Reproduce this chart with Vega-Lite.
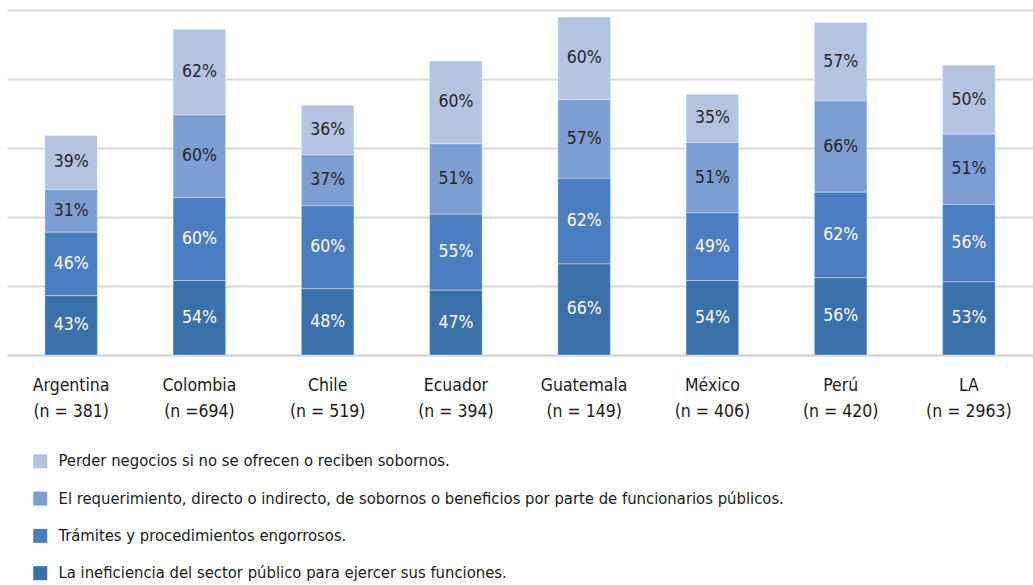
{
  "$schema": "https://vega.github.io/schema/vega-lite/v6.json",
  "autosize": {"type": "none"},
  "width": 1026,
  "height": 345,
  "padding": {"left": 7, "top": 10, "right": 0, "bottom": 230},
  "background": "white",
  "config": {
    "font": "DejaVu Sans Condensed, Liberation Sans Narrow, sans-serif",
    "view": {"stroke": null}
  },
  "data": {
    "values": [
      {"pais": "Argentina|(n = 381)", "serie": "Perder negocios si no se ofrecen o reciben sobornos.", "rank": 4, "valor": 0.39},
      {"pais": "Argentina|(n = 381)", "serie": "El requerimiento, directo o indirecto, de sobornos o beneficios por parte de funcionarios públicos.", "rank": 3, "valor": 0.31},
      {"pais": "Argentina|(n = 381)", "serie": "Trámites y procedimientos engorrosos.", "rank": 2, "valor": 0.46},
      {"pais": "Argentina|(n = 381)", "serie": "La ineficiencia del sector público para ejercer sus funciones.", "rank": 1, "valor": 0.43},
      {"pais": "Colombia|(n =694)", "serie": "Perder negocios si no se ofrecen o reciben sobornos.", "rank": 4, "valor": 0.62},
      {"pais": "Colombia|(n =694)", "serie": "El requerimiento, directo o indirecto, de sobornos o beneficios por parte de funcionarios públicos.", "rank": 3, "valor": 0.60},
      {"pais": "Colombia|(n =694)", "serie": "Trámites y procedimientos engorrosos.", "rank": 2, "valor": 0.60},
      {"pais": "Colombia|(n =694)", "serie": "La ineficiencia del sector público para ejercer sus funciones.", "rank": 1, "valor": 0.54},
      {"pais": "Chile|(n = 519)", "serie": "Perder negocios si no se ofrecen o reciben sobornos.", "rank": 4, "valor": 0.36},
      {"pais": "Chile|(n = 519)", "serie": "El requerimiento, directo o indirecto, de sobornos o beneficios por parte de funcionarios públicos.", "rank": 3, "valor": 0.37},
      {"pais": "Chile|(n = 519)", "serie": "Trámites y procedimientos engorrosos.", "rank": 2, "valor": 0.60},
      {"pais": "Chile|(n = 519)", "serie": "La ineficiencia del sector público para ejercer sus funciones.", "rank": 1, "valor": 0.48},
      {"pais": "Ecuador|(n = 394)", "serie": "Perder negocios si no se ofrecen o reciben sobornos.", "rank": 4, "valor": 0.60},
      {"pais": "Ecuador|(n = 394)", "serie": "El requerimiento, directo o indirecto, de sobornos o beneficios por parte de funcionarios públicos.", "rank": 3, "valor": 0.51},
      {"pais": "Ecuador|(n = 394)", "serie": "Trámites y procedimientos engorrosos.", "rank": 2, "valor": 0.55},
      {"pais": "Ecuador|(n = 394)", "serie": "La ineficiencia del sector público para ejercer sus funciones.", "rank": 1, "valor": 0.47},
      {"pais": "Guatemala|(n = 149)", "serie": "Perder negocios si no se ofrecen o reciben sobornos.", "rank": 4, "valor": 0.60},
      {"pais": "Guatemala|(n = 149)", "serie": "El requerimiento, directo o indirecto, de sobornos o beneficios por parte de funcionarios públicos.", "rank": 3, "valor": 0.57},
      {"pais": "Guatemala|(n = 149)", "serie": "Trámites y procedimientos engorrosos.", "rank": 2, "valor": 0.62},
      {"pais": "Guatemala|(n = 149)", "serie": "La ineficiencia del sector público para ejercer sus funciones.", "rank": 1, "valor": 0.66},
      {"pais": "México|(n = 406)", "serie": "Perder negocios si no se ofrecen o reciben sobornos.", "rank": 4, "valor": 0.35},
      {"pais": "México|(n = 406)", "serie": "El requerimiento, directo o indirecto, de sobornos o beneficios por parte de funcionarios públicos.", "rank": 3, "valor": 0.51},
      {"pais": "México|(n = 406)", "serie": "Trámites y procedimientos engorrosos.", "rank": 2, "valor": 0.49},
      {"pais": "México|(n = 406)", "serie": "La ineficiencia del sector público para ejercer sus funciones.", "rank": 1, "valor": 0.54},
      {"pais": "Perú|(n = 420)", "serie": "Perder negocios si no se ofrecen o reciben sobornos.", "rank": 4, "valor": 0.57},
      {"pais": "Perú|(n = 420)", "serie": "El requerimiento, directo o indirecto, de sobornos o beneficios por parte de funcionarios públicos.", "rank": 3, "valor": 0.66},
      {"pais": "Perú|(n = 420)", "serie": "Trámites y procedimientos engorrosos.", "rank": 2, "valor": 0.62},
      {"pais": "Perú|(n = 420)", "serie": "La ineficiencia del sector público para ejercer sus funciones.", "rank": 1, "valor": 0.56},
      {"pais": "LA|(n = 2963)", "serie": "Perder negocios si no se ofrecen o reciben sobornos.", "rank": 4, "valor": 0.50},
      {"pais": "LA|(n = 2963)", "serie": "El requerimiento, directo o indirecto, de sobornos o beneficios por parte de funcionarios públicos.", "rank": 3, "valor": 0.51},
      {"pais": "LA|(n = 2963)", "serie": "Trámites y procedimientos engorrosos.", "rank": 2, "valor": 0.56},
      {"pais": "LA|(n = 2963)", "serie": "La ineficiencia del sector público para ejercer sus funciones.", "rank": 1, "valor": 0.53}
    ]
  },
  "encoding": {
    "x": {
      "field": "pais",
      "type": "nominal",
      "sort": null,
      "scale": {"paddingInner": 0.59, "paddingOuter": 0.295},
      "axis": {
        "title": null,
        "labelAngle": 0,
        "labelExpr": "split(datum.label, '|')",
        "labelFontSize": 17.5,
        "labelColor": "#1a1a1a",
        "labelLineHeight": 26,
        "labelPadding": 21,
        "labelBaseline": "top",
        "ticks": false,
        "domain": true,
        "domainColor": "#d4d4d4",
        "domainWidth": 2.5,
        "grid": false
      }
    },
    "y": {
      "field": "valor",
      "type": "quantitative",
      "stack": "zero",
      "scale": {"domain": [0, 2.5], "nice": false},
      "axis": {
        "title": null,
        "labels": false,
        "ticks": false,
        "domain": false,
        "values": [0.5, 1, 1.5, 2, 2.5],
        "grid": true,
        "gridColor": "#d9d9d9",
        "gridWidth": 2
      }
    },
    "order": {"field": "rank", "type": "quantitative"}
  },
  "layer": [
    {
      "mark": {"type": "bar", "stroke": "#ffffff", "strokeWidth": 1, "strokeOpacity": 0.35},
      "encoding": {
        "color": {
          "field": "serie",
          "type": "nominal",
          "scale": {
            "domain": [
              "Perder negocios si no se ofrecen o reciben sobornos.",
              "El requerimiento, directo o indirecto, de sobornos o beneficios por parte de funcionarios públicos.",
              "Trámites y procedimientos engorrosos.",
              "La ineficiencia del sector público para ejercer sus funciones."
            ],
            "range": ["#b3c3e0", "#7d9ed2", "#4a7ec0", "#3a71aa"]
          },
          "legend": {
            "title": null,
            "orient": "none",
            "legendX": 25,
            "legendY": 443,
            "direction": "vertical",
            "symbolType": "square",
            "symbolSize": 196,
            "symbolStrokeWidth": 0,
            "labelFontSize": 16.5,
            "labelColor": "#1a1a1a",
            "labelOffset": 10,
            "rowPadding": 20.3,
            "labelLimit": 900
          }
        }
      }
    },
    {
      "mark": {"type": "text", "fontSize": 17.5, "baseline": "middle"},
      "encoding": {
        "y": {"field": "valor", "type": "quantitative", "stack": "zero", "bandPosition": 0.5},
        "text": {"field": "valor", "type": "quantitative", "format": ".0%"},
        "color": {
          "condition": {"test": "datum.rank <= 2", "value": "#ffffff"},
          "value": "#262626"
        }
      }
    }
  ]
}
